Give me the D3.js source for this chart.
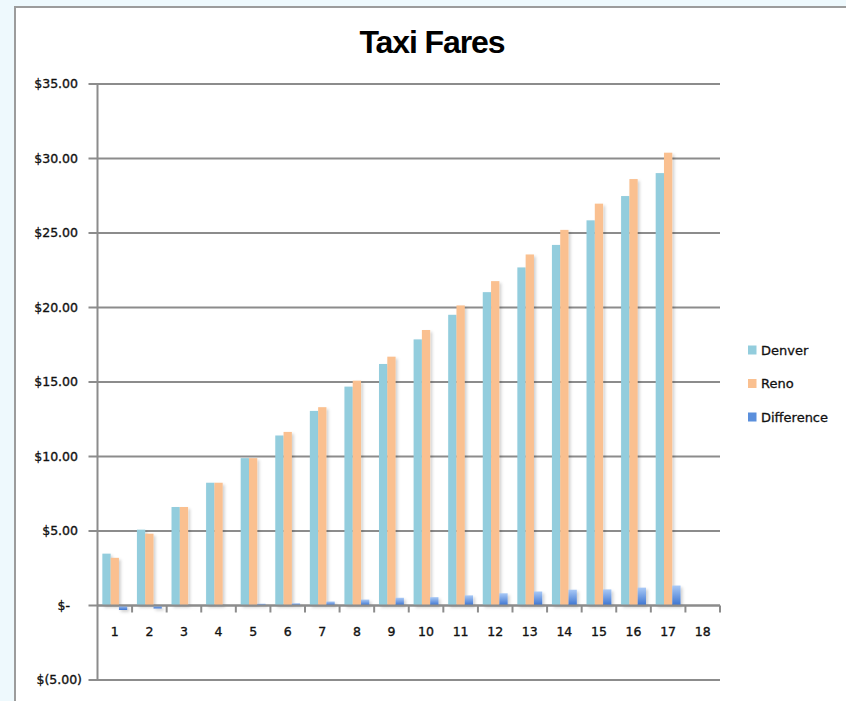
<!DOCTYPE html>
<html>
<head>
<meta charset="utf-8">
<script src="https://cdn.jsdelivr.net/npm/d3@7"></script>
<style>
  html, body { margin: 0; padding: 0; background: #eef9fd; }
  svg { display: block; }
</style>
</head>
<body>
<svg id="chart" width="846" height="701"></svg>
<script>
const title = "Taxi Fares";
const categories = ["1","2","3","4","5","6","7","8","9","10","11","12","13","14","15","16","17","18"];
const seriesNames = ["Denver", "Reno", "Difference"];
const denver = [3.48, 5.09, 6.61, 8.24, 9.89, 11.41, 13.06, 14.69, 16.21, 17.86, 19.51, 21.03, 22.69, 24.20, 25.85, 27.48, 29.02];
const reno   = [3.20, 4.82, 6.61, 8.24, 9.89, 11.65, 13.31, 15.09, 16.70, 18.49, 20.14, 21.77, 23.56, 25.21, 26.97, 28.62, 30.39];
const difference = [-0.30, -0.20, 0.02, 0.02, 0.12, 0.15, 0.27, 0.40, 0.52, 0.56, 0.68, 0.82, 0.94, 1.06, 1.08, 1.20, 1.34];
const yTicks = [-5, 0, 5, 10, 15, 20, 25, 30, 35];
const yTickLabels = ["$(5.00)", "$-", "$5.00", "$10.00", "$15.00", "$20.00", "$25.00", "$30.00", "$35.00"];

(function () {
const seriesValues = [denver, reno, difference];
const colors = {Denver: "#93cddd", Reno: "#fac090", Difference: "url(#diffGrad)"};
const legendColors = {Denver: "#93cddd", Reno: "#fac090", Difference: "#5b8fdc"};
const labelFont = "DejaVu Sans, Verdana, sans-serif";

const svg = d3.select("#chart");
const defs = svg.append("defs");
const grad = defs.append("linearGradient").attr("id", "diffGrad")
  .attr("x1", 0).attr("y1", 0).attr("x2", 0).attr("y2", 1);
grad.append("stop").attr("offset", "0%").attr("stop-color", "#a9c9f6");
grad.append("stop").attr("offset", "100%").attr("stop-color", "#3b73d0");
const sh = defs.append("filter").attr("id", "shadow")
  .attr("x", "-50%").attr("y", "-10%").attr("width", "200%").attr("height", "130%");
sh.append("feDropShadow").attr("dx", 2).attr("dy", 2).attr("stdDeviation", 1.5)
  .attr("flood-color", "#000").attr("flood-opacity", 0.18);

// frame
svg.append("rect").attr("x", 15).attr("y", 7).attr("width", 840).attr("height", 710)
  .attr("fill", "#ffffff").attr("stroke", "#9c9c9c").attr("stroke-width", 2);

const pLeft = 97.5, pRight = 720, pTop = 84, pBottom = 680;
const x = d3.scaleBand().domain(categories).range([pLeft, pRight]).paddingInner(0).paddingOuter(0);
const xs = d3.scaleBand().domain(seriesNames).range([0, x.bandwidth()]).paddingInner(0).paddingOuter(0.585);
const y = d3.scaleLinear().domain([-5, 35]).range([pBottom, pTop]);

// title
svg.append("text").attr("x", 432).attr("y", 53).attr("text-anchor", "middle")
  .attr("font-family", "Liberation Sans, Arial, sans-serif").attr("font-weight", "bold")
  .attr("font-size", 32).attr("letter-spacing", -1.1).attr("fill", "#000").text(title);

// gridlines
const gridColor = "#8c8c8c";
svg.append("g").selectAll("line").data(yTicks).join("line")
  .attr("x1", pLeft - 9).attr("x2", pRight)
  .attr("y1", d => y(d)).attr("y2", d => y(d))
  .attr("stroke", gridColor).attr("stroke-width", 2);

// y axis labels
const yLab = svg.append("g").attr("font-family", labelFont)
  .attr("font-size", 12.5).attr("fill", "#111").attr("stroke", "#111").attr("stroke-width", 0.35);
yTicks.forEach((t, i) => {
  const lbl = yTickLabels[i];
  let xr = 78;
  if (t === 0) xr = 70;
  if (t < 0) xr = 82;
  yLab.append("text").attr("x", xr).attr("y", y(t)).attr("dy", "0.35em")
    .attr("text-anchor", "end").text(lbl);
});

// bars
const groups = seriesNames.map((name, si) => ({name, values: seriesValues[si]}));
const barsG = svg.append("g");
groups.forEach(g => {
  barsG.append("g").attr("filter", "url(#shadow)").selectAll("rect")
    .data(g.values.map((v, i) => ({cat: categories[i], v})))
    .join("rect")
    .attr("x", d => x(d.cat) + xs(g.name))
    .attr("width", xs.bandwidth())
    .attr("y", d => Math.min(y(d.v), y(0)))
    .attr("height", d => Math.abs(y(d.v) - y(0)))
    .attr("fill", colors[g.name]);
});

// y axis line
svg.append("line").attr("x1", pLeft).attr("x2", pLeft).attr("y1", pTop).attr("y2", pBottom)
  .attr("stroke", gridColor).attr("stroke-width", 2);

// x axis at zero
const xAxis = d3.axisBottom(x).tickSize(0).tickFormat(d => d);
const xg = svg.append("g").attr("transform", `translate(0,${y(0)})`).call(xAxis);
xg.select(".domain").remove();
xg.selectAll("text").attr("font-family", labelFont)
  .attr("font-size", 12.5).attr("fill", "#111").attr("stroke", "#111").attr("stroke-width", 0.35)
  .attr("y", 26).attr("dy", "0.35em");
svg.append("line").attr("x1", pLeft).attr("x2", pRight).attr("y1", y(0)).attr("y2", y(0))
  .attr("stroke", gridColor).attr("stroke-width", 2);
svg.append("g").selectAll("line").data(categories).join("line")
  .attr("x1", d => x(d) + x.bandwidth()).attr("x2", d => x(d) + x.bandwidth())
  .attr("y1", y(0)).attr("y2", y(0) + 7)
  .attr("stroke", gridColor).attr("stroke-width", 2);

// legend
const leg = svg.append("g");
seriesNames.forEach((n, i) => {
  const cy = 350 + i * 33.5;
  leg.append("rect").attr("x", 748).attr("y", cy - 4.5).attr("width", 8.5).attr("height", 9)
    .attr("fill", legendColors[n]);
  leg.append("text").attr("x", 761).attr("y", cy).attr("dy", "0.35em")
    .attr("font-family", labelFont).attr("font-size", 13)
    .attr("fill", "#111").attr("stroke", "#111").attr("stroke-width", 0.3).text(n);
});
})();
</script>
</body>
</html>
